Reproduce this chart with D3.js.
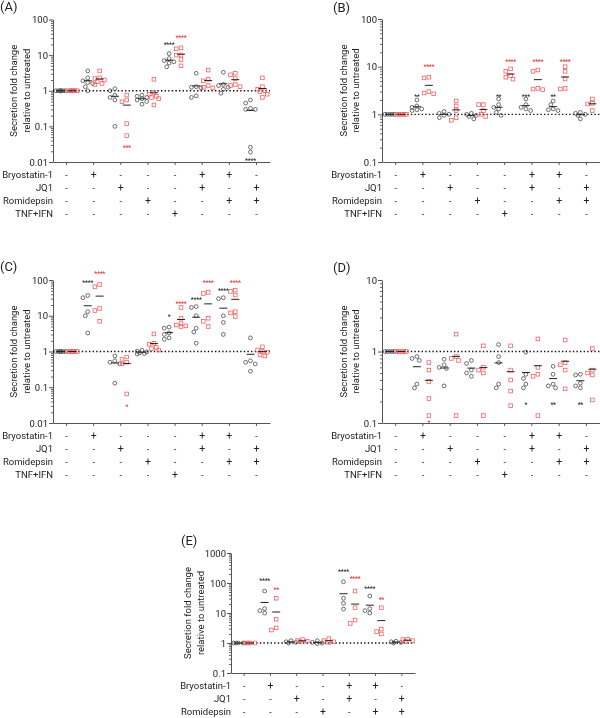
<!DOCTYPE html>
<html lang="en">
<head>
  <meta charset="UTF-8" />
  <script src="https://d3js.org/d3.v7.min.js"></script>
  <title>Secretion fold change</title>
  <style>
    body { margin: 0; background: #fff; }
    svg { will-change: transform; }
    text { font-family: Roboto, "Liberation Sans", sans-serif; fill: #222; }
  </style>
</head>
<body>
  <svg width="600" height="718"></svg>

  <script>
    // treatment tables
    const rows5 = ["Bryostatin-1", "JQ1", "Romidepsin", "TNF+IFN"];
    const signs5 = [
      ["-", "+", "-", "-", "-", "+", "+", "-"],
      ["-", "-", "+", "-", "-", "+", "-", "+"],
      ["-", "-", "-", "+", "-", "-", "+", "+"],
      ["-", "-", "-", "-", "+", "-", "-", "-"]
    ];
    const rows3 = ["Bryostatin-1", "JQ1", "Romidepsin"];
    const signs3 = [
      ["-", "+", "-", "-", "+", "+", "-"],
      ["-", "-", "+", "-", "+", "-", "+"],
      ["-", "-", "-", "+", "-", "+", "+"]
    ];

    // (A)
    const aBlack = [
      [1, 1, 1, 1, 1, 1, 1],
      [3.6, 2.3, 1.9, 1.7, 1.6, 1.3, 1.0],
      [1.15, 1.0, 0.75, 0.65, 0.55, 0.1],
      [0.75, 0.7, 0.65, 0.6, 0.55, 0.5, 0.42],
      [11, 8, 7, 6.5, 6, 4.7],
      [3.1, 1.3, 1.25, 1.2, 0.72, 0.65],
      [3.3, 1.5, 1.4, 1.25, 1.1, 0.85],
      [0.55, 0.45, 0.32, 0.3, 0.3, 0.026, 0.019]
    ];
    const aRed = [
      [1, 1, 1, 1, 1, 1, 1],
      [3.6, 2.3, 2.2, 2.0, 1.8, 1.6, 1.5],
      [0.76, 0.55, 0.49, 0.12, 0.055],
      [2.1, 0.9, 0.8, 0.7, 0.65, 0.6, 0.4],
      [16, 15, 10, 10, 7.5, 5],
      [3.8, 2.1, 1.9, 1.4, 1.25, 1.2],
      [3.1, 2.8, 2.2, 1.5, 1.4, 1.3],
      [2.3, 1.3, 1.1, 1.0, 0.95, 0.8, 0.65]
    ];
    const aStarsBlack = [null, null, null, null, ["****", 21], null, null, ["****", 0.0115]];
    const aStarsRed = [null, null, ["***", 0.027], null, ["****", 33], null, null, null];

    // (B)
    const bBlack = [
      [1, 1, 1, 1, 1],
      [2.0, 1.5, 1.4, 1.3, 1.25, 1.2],
      [1.15, 1.05, 1.0, 0.95, 0.85],
      [1.05, 1.0, 0.95, 0.9, 0.8],
      [2.1, 1.6, 1.4, 1.3, 1.1, 0.95],
      [2.1, 1.6, 1.4, 1.3, 1.2],
      [1.9, 1.6, 1.3, 1.25, 1.2],
      [1.1, 1.05, 1.0, 0.95, 0.8]
    ];
    const bRed = [
      [1, 1, 1, 1, 1],
      [6, 5.8, 3.0, 2.8, 2.7],
      [1.9, 1.5, 1.2, 0.85, 0.75],
      [1.6, 1.6, 1.2, 1.0, 0.9],
      [9, 8, 6.5, 6, 5.5],
      [8.5, 8, 3.5, 3.4, 3.3],
      [10, 8, 5.5, 3.5, 3.4],
      [2.1, 1.7, 1.65, 1.2]
    ];
    const bStarsBlack = [null, ["**", 2.5], null, null, ["**", 2.5], ["***", 2.5], ["**", 2.5], null];
    const bStarsRed = [null, ["****", 10.5], null, null, ["****", 13.5], ["****", 13.5], ["****", 13.5], null];

    // (C)
    const cBlack = [
      [1, 1, 1, 1, 1, 1, 1],
      [37, 32, 13, 10, 3.3],
      [0.75, 0.55, 0.5, 0.45, 0.13],
      [1.08, 1.02, 0.98, 0.92, 0.88, 0.85],
      [4.8, 4.5, 3.3, 3.0, 2.4, 2.2],
      [18, 17, 10, 4.5, 3.5, 1.7],
      [32, 30, 10, 6.5, 3],
      [2.4, 0.55, 0.5, 0.45, 0.28]
    ];
    const cRed = [
      [1, 1, 1, 1, 1, 1, 1],
      [75, 65, 16, 14, 7],
      [0.7, 0.6, 0.5, 0.45, 0.065],
      [3.1, 1.7, 1.6, 1.3, 1.2, 1.1],
      [17, 8.5, 6, 5.5, 5.2, 5],
      [45, 42, 8.5, 7, 5],
      [52, 48, 38, 13, 12, 9.5],
      [1.35, 1.1, 1.0, 0.95, 0.8, 0.75]
    ];
    const cStarsBlack = [null, ["****", 90], null, null, ["*", 10], ["****", 30], ["****", 55], null];
    const cStarsRed = [null, ["****", 158], ["*", 0.032], null, ["****", 24], ["****", 90], ["****", 90], null];

    // (D)
    const dBlack = [
      [1, 1, 1, 1, 1],
      [0.85, 0.8, 0.75, 0.35, 0.31],
      [0.78, 0.65, 0.6, 0.58, 0.33],
      [0.75, 0.68, 0.55, 0.5, 0.45],
      [1.25, 0.85, 0.7, 0.35, 0.31],
      [0.98, 0.48, 0.42, 0.35, 0.31],
      [0.62, 0.48, 0.35, 0.33, 0.31],
      [0.48, 0.47, 0.36, 0.33, 0.31]
    ];
    const dRed = [
      [1, 1, 1, 1, 1],
      [0.7, 0.55, 0.38, 0.22, 0.127],
      [1.75, 0.85, 0.8, 0.75, 0.127],
      [1.2, 0.6, 0.55, 0.5, 0.127],
      [1.2, 0.55, 0.4, 0.28, 0.175],
      [1.5, 0.6, 0.48, 0.45, 0.127],
      [1.45, 0.7, 0.65, 0.55, 0.3],
      [1.1, 0.55, 0.5, 0.47, 0.21]
    ];
    const dStarsBlack = [null, null, null, null, null, ["*", 0.19], ["**", 0.19], ["**", 0.19]];
    const dStarsRed = [null, ["*", 0.106], null, null, null, null, null, null];

    // (E)
    const eBlack = [
      [1, 1, 1, 1],
      [54, 14, 12, 10],
      [1.2, 1.1, 1.05, 1.0],
      [1.2, 1.05, 1.0, 0.95],
      [110, 31, 21, 13.5],
      [37, 14, 12, 10],
      [1.15, 1.1, 1.05, 1.0]
    ];
    const eRed = [
      [1, 1, 1, 1],
      [31, 6.2, 3.2, 2.7],
      [1.3, 1.2, 1.15, 1.1],
      [1.4, 1.2, 1.1, 1.05],
      [54, 15, 5.8, 4.5],
      [15, 2.9, 2.4, 2.0],
      [1.35, 1.3, 1.2, 1.1]
    ];
    const eStarsBlack = [null, ["****", 135], null, null, ["****", 260], ["****", 72], null];
    const eStarsRed = [null, ["**", 68], null, null, ["****", 150], ["**", 31], null];

    const blackCol = "#4a4a4a";
    const redCol = "#f06262";
    const starRed = "#e82a2a";

    const panels = [
      { name: "(A)", lx: 0, ly: 11, x0: 53, x1: 270, yTop: 19.5, yBot: 162, dom: [0.01, 100],
        black: aBlack, red: aRed, sb: aStarsBlack, sr: aStarsRed, rows: rows5, signs: signs5, tY: 175, lab: [40, 27] },
      { name: "(B)", lx: 333, ly: 12, x0: 382, x1: 600, yTop: 19, yBot: 162, dom: [0.1, 100],
        black: bBlack, red: bRed, sb: bStarsBlack, sr: bStarsRed, rows: rows5, signs: signs5, tY: 175, lab: [39, 27] },
      { name: "(C)", lx: 0, ly: 271, x0: 53, x1: 270, yTop: 280, yBot: 423, dom: [0.01, 100],
        black: cBlack, red: cRed, sb: cStarsBlack, sr: cStarsRed, rows: rows5, signs: signs5, tY: 436, lab: [40, 27] },
      { name: "(D)", lx: 333, ly: 272, x0: 382, x1: 600, yTop: 280, yBot: 423, dom: [0.1, 10],
        black: dBlack, red: dRed, sb: dStarsBlack, sr: dStarsRed, rows: rows5, signs: signs5, tY: 436, lab: [39, 27] },
      { name: "(E)", lx: 181, ly: 545, x0: 231, x1: 415, yTop: 553, yBot: 673, dom: [0.1, 1000],
        black: eBlack, red: eRed, sb: eStarsBlack, sr: eStarsRed, rows: rows3, signs: signs3, tY: 686, lab: [44, 31] }
    ];

    const svg = d3.select("svg");

    // simple beeswarm offsets so overlapping points spread sideways
    function swarm(vals, y, step, maxOff, minDist) {
      const cands = [0];
      for (let k = 1; k * step <= maxOff + 0.01; k++) cands.push(-k * step, k * step);
      const placed = [];
      const offs = new Array(vals.length);
      const order = vals.map((v, i) => i).sort((a, b) => vals[b] - vals[a]);
      order.forEach(i => {
        const py = y(vals[i]);
        let best = 0, bestD = -1;
        for (const c of cands) {
          let dmin = Infinity;
          placed.forEach(p => { dmin = Math.min(dmin, Math.hypot(p[0] - c, p[1] - py)); });
          if (dmin >= minDist) { best = c; break; }
          if (dmin > bestD + 0.01) { bestD = dmin; best = c; }
        }
        offs[i] = best;
        placed.push([best, py]);
      });
      return offs;
    }

    panels.forEach(p => {
      const n = p.black.length;
      const x = d3.scaleBand().domain(d3.range(n)).range([p.x0, p.x1]);
      const y = d3.scaleLog().domain(p.dom).range([p.yBot, p.yTop]);
      const bw = x.bandwidth();
      const shift = bw * 0.22;
      const g = svg.append("g");

      g.append("text").attr("x", p.lx).attr("y", p.ly)
        .style("font-size", "13px").text(p.name);

      // y axis, major + minor ticks
      const decades = [];
      for (let e = Math.round(Math.log10(p.dom[0])); e <= Math.round(Math.log10(p.dom[1])); e++) decades.push(Math.pow(10, e));
      const minors = [];
      decades.slice(0, -1).forEach(d => { for (let k = 2; k <= 9; k++) minors.push(d * k); });

      const yMinor = g.append("g").attr("transform", `translate(${p.x0},0)`)
        .call(d3.axisLeft(y).tickValues(minors).tickFormat("").tickSize(2).tickSizeOuter(0));
      yMinor.select(".domain").remove();
      yMinor.selectAll("line").attr("stroke", "#666");

      const yAx = g.append("g").attr("transform", `translate(${p.x0},0)`)
        .call(d3.axisLeft(y).tickValues(decades).tickFormat(d3.format("~g")).tickSize(4).tickSizeOuter(0));
      yAx.select(".domain").attr("stroke", "#555");
      yAx.selectAll("line").attr("stroke", "#555");
      yAx.selectAll("text").style("font-size", "9.5px").attr("x", -5)
        .style("font-family", "Roboto, sans-serif").attr("fill", "#222");

      // x axis
      const xAx = g.append("g").attr("transform", `translate(0,${p.yBot})`)
        .call(d3.axisBottom(x).tickFormat("").tickSize(3).tickSizeOuter(0));
      xAx.select(".domain").attr("stroke", "#555");
      xAx.selectAll("line").attr("stroke", "#555");

      // y label
      const mid = (p.yTop + p.yBot) / 2;
      ["Secretion fold change", "relative to untreated"].forEach((t, i) => {
        g.append("text")
          .attr("transform", `translate(${p.x0 - p.lab[i]},${mid}) rotate(-90)`)
          .attr("text-anchor", "middle").attr("dominant-baseline", "central")
          .style("font-size", "9.5px").text(t);
      });

      // reference line at 1
      g.append("line").attr("x1", p.x0).attr("x2", p.x1)
        .attr("y1", y(1)).attr("y2", y(1))
        .attr("stroke", "#111").attr("stroke-width", 1.4).attr("stroke-dasharray", "1.4,2.2");

      // points
      const series = [
        { vals: p.black, off: -shift, col: blackCol, stars: p.sb, starCol: "#222", shape: "circle" },
        { vals: p.red, off: shift, col: redCol, stars: p.sr, starCol: starRed, shape: "square" }
      ];
      series.forEach(s => {
        s.vals.forEach((vals, gi) => {
          const cx = x(gi) + bw / 2 + s.off;
          const offs = swarm(vals, y, 2.4, 5, 4.2);
          const pts = vals.map((v, i) => ({ x: cx + offs[i], y: y(v) }));
          if (s.shape === "circle") {
            g.selectAll(null).data(pts).enter().append("circle")
              .attr("cx", d => d.x).attr("cy", d => d.y).attr("r", 1.9)
              .attr("fill", "none").attr("stroke", s.col).attr("stroke-width", 0.8);
          } else {
            g.selectAll(null).data(pts).enter().append("rect")
              .attr("x", d => d.x - 1.8).attr("y", d => d.y - 1.8)
              .attr("width", 3.6).attr("height", 3.6)
              .attr("fill", "none").attr("stroke", s.col).attr("stroke-width", 0.8);
          }
          // mean line
          const m = d3.mean(vals);
          g.append("line").attr("x1", cx - 4).attr("x2", cx + 4)
            .attr("y1", y(m)).attr("y2", y(m))
            .attr("stroke", "#222").attr("stroke-width", 1);
          // significance
          const st = s.stars[gi];
          if (st) {
            g.append("text").attr("x", cx).attr("y", y(st[1]) + 3.6)
              .attr("text-anchor", "middle")
              .style("font-size", "7px").style("letter-spacing", "-0.3px")
              .style("fill", s.starCol).text(st[0]);
          }
        });
      });

      // treatment table
      p.rows.forEach((r, ri) => {
        const ry = p.tY + ri * 13;
        g.append("text").attr("x", p.x0).attr("y", ry + 3.4)
          .attr("text-anchor", "end").style("font-size", "9.5px").text(r);
        g.selectAll(null).data(p.signs[ri]).enter().append("text")
          .attr("transform", (d, i) => `translate(${x(i) + bw / 2},${ry + 3.4}) rotate(0.01)`)
          .attr("text-anchor", "middle")
          .style("font-size", d => d === "+" ? "10.5px" : "9px")
          .style("fill", "#222")
          .text(d => d);
      });
    });
  </script>
</body>
</html>
